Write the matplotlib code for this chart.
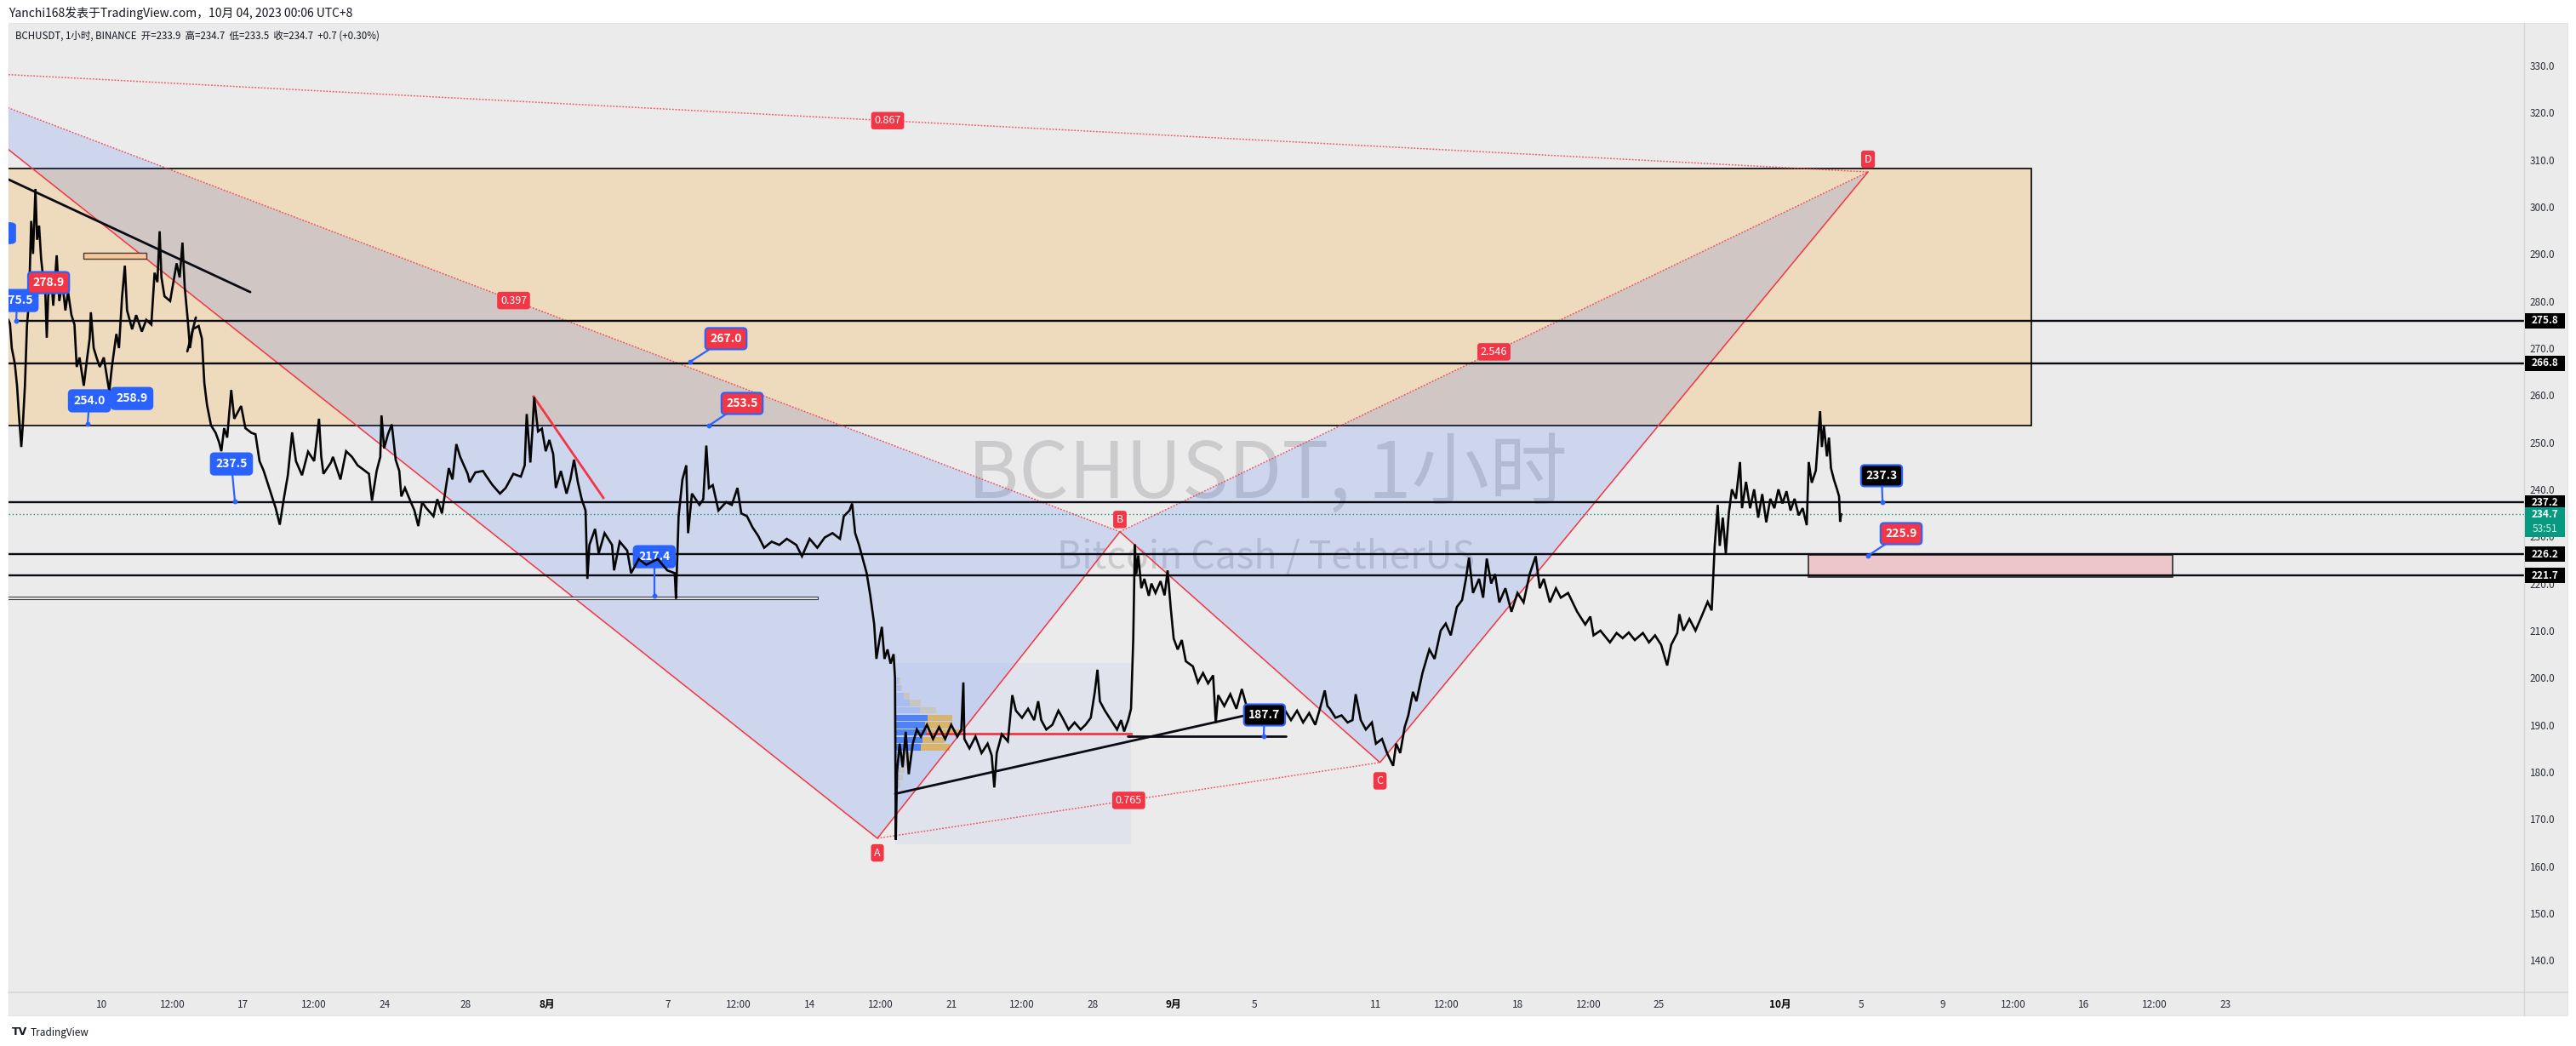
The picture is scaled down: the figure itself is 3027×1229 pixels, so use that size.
import matplotlib
matplotlib.use("Agg")
import matplotlib.pyplot as plt
import matplotlib.transforms as mtrans
from matplotlib.patches import Rectangle, Polygon, FancyBboxPatch
from matplotlib.lines import Line2D

plt.rcParams['font.family'] = ['Noto Sans CJK SC', 'DejaVu Sans']

# ---------------- data (x = days since 2023-07-10 00:00, y = price USDT) ----------------
price_days = [
 -4.62, -4.54, -4.45, -4.3, -4.19, -4.1, -3.98, -3.9, -3.8, -3.70, -3.6, -3.49, -3.40, -3.28, -3.2, -3.1,
 -3.0, -2.9, -2.8, -2.72, -2.65, -2.5, -2.4, -2.23, -2.1, -1.95, -1.8, -1.67, -1.5, -1.35, -1.24, -1.1,
 -0.89, -0.75, -0.6, -0.54, -0.4, -0.26, -0.1, 0.1, 0.25, 0.37, 0.5, 0.72, 0.85, 1.0, 1.14, 1.25, 1.5,
 1.7, 1.98, 2.2, 2.45, 2.61, 2.75, 2.86, 2.95, 3.1, 3.38, 3.5, 3.7, 3.85, 3.99, 4.1, 4.25, 4.36, 4.5,
 4.79, 4.95, 5.07, 5.2, 5.4, 5.63, 5.8, 5.91, 6.05, 6.2, 6.40, 6.55, 6.89, 7.1, 7.4, 7.6, 7.8, 8.0, 8.3,
 8.6, 8.8, 9.0, 9.2, 9.41, 9.6, 9.9, 10.2, 10.5, 10.74, 10.85,
 10.96, 11.33, 11.43, 11.80, 12.08, 12.37, 12.65, 12.84, 13.21, 13.36, 13.59, 13.77, 13.83, 13.96, 14.15,
 14.34, 14.53, 14.71, 14.81, 14.99, 15.28, 15.46, 15.65, 15.84, 16.03, 16.40, 16.59, 16.82, 16.97, 17.16,
 17.34, 17.53, 17.72, 18.09, 18.19, 18.47, 18.85, 19.03, 19.32, 19.69, 19.97, 20.35, 20.72, 20.91, 21.01,
 21.19, 21.29, 21.38, 21.57, 21.76, 21.95, 22.13, 22.32, 22.45, 22.70, 22.98, 23.17, 23.35, 23.54, 23.73,
 23.92, 24.01, 24.11, 24.39, 24.57, 24.86, 25.23, 25.33, 25.61, 25.98, 26.17, 26.55, 26.92, 27.49, 27.96,
 28.33, 28.39, 28.52, 28.71, 28.90, 28.99, 29.18, 29.55, 29.74, 29.89, 30.02, 30.21, 30.49, 30.87, 31.15,
 31.43, 31.62, 31.90, 32.18, 32.46, 32.75, 33.12, 33.50, 33.87, 34.34, 34.62, 35.00, 35.38, 35.75, 36.13,
 36.50, 36.69, 36.97, 37.10, 37.25, 37.44, 37.63, 37.82, 38.00, 38.19,
 38.3, 38.45, 38.57, 38.7, 38.85, 39.0, 39.15, 39.22, 39.26, 39.32, 39.45, 39.6, 39.75, 39.9, 40.1, 40.3,
 40.5, 40.8, 41.1, 41.4, 41.7, 42.0, 42.3, 42.5, 42.6, 42.65, 42.9, 43.2, 43.5, 43.8, 44.0, 44.13, 44.25,
 44.5, 44.8, 45.02, 45.2, 45.5, 45.8, 46.1, 46.3, 46.45, 46.7, 47.0, 47.3, 47.5, 47.8, 48.1, 48.4, 48.64,
 48.9, 49.1, 49.23, 49.35, 49.6, 49.9, 50.2, 50.4, 50.55, 50.75, 50.89, 51.0, 51.08,
 51.15, 51.25, 51.4, 51.55, 51.77, 51.9, 52.1, 52.35, 52.55, 52.7, 52.85, 53.0, 53.2, 53.4, 53.6, 53.95,
 54.2, 54.45, 54.7, 54.95, 55.08, 55.2, 55.5, 55.8, 56.1, 56.37, 56.6, 56.85, 57.2, 57.5, 57.9, 58.2,
 58.46, 58.8, 59.1, 59.4, 59.7, 60.0, 60.23, 60.47, 60.6, 60.72, 61.0, 61.3, 61.6, 61.84, 62.0, 62.25,
 62.5, 62.8, 63.0, 63.3, 63.55, 63.85, 64.0, 64.2, 64.42, 64.6, 64.83, 65.0, 65.3, 65.64, 65.9, 66.2,
 66.45, 66.7, 67.0, 67.26, 67.45, 67.6, 67.8, 68.1, 68.3, 68.48, 68.7, 68.89, 69.1, 69.4, 69.7, 70.0,
 70.3, 70.6, 70.9, 71.1, 71.3, 71.6, 71.9, 72.14, 72.5, 72.95, 73.35, 73.6, 73.76, 74.1, 74.57, 74.9,
 75.2, 75.5, 75.8, 76.2, 76.5, 76.8, 77.1, 77.4, 77.6, 77.9, 78.0, 78.2, 78.5, 78.8, 79.1, 79.4, 79.6,
 79.75, 79.9, 80.0, 80.15, 80.3, 80.45, 80.6, 80.8, 81.0, 81.1, 81.3, 81.5, 81.7, 81.9, 82.1, 82.3, 82.5,
 82.7, 82.9, 83.1, 83.3, 83.5, 83.7, 83.9, 84.1, 84.3, 84.4, 84.55, 84.75, 84.96, 85.05, 85.15, 85.3,
 85.4, 85.5, 85.65, 85.8, 85.9, 85.95, 86.0]
price_vals = [
 276.0, 275.2, 270.0, 266.7, 262.0, 256.0, 249.0, 254.0, 262.0, 274.7, 280.0, 297.0, 290.0, 303.8, 293.0, 296.0,
 289.0, 285.0, 283.0, 272.2, 281.0, 285.0, 279.0, 289.7, 280.0, 284.0, 278.0, 282.0, 277.0, 275.0, 266.0, 268.0,
 262.0, 267.0, 272.0, 277.6, 270.0, 268.0, 266.0, 268.0, 264.0, 260.8, 266.0, 273.0, 270.0, 280.7, 287.5, 278.0, 274.0,
 277.0, 273.5, 276.0, 275.0, 286.0, 284.0, 294.8, 285.0, 281.0, 280.0, 283.0, 288.0, 285.0, 292.4, 283.0, 276.0, 270.0, 274.0,
 274.7, 272.0, 262.6, 258.0, 253.6, 252.0, 250.0, 248.1, 253.0, 251.0, 261.1, 255.0, 257.7, 253.0, 252.0, 251.7, 246.0, 244.0, 240.0,
 236.0, 232.5, 238.0, 243.0, 252.1, 246.0, 243.0, 248.0, 246.0, 255.0, 247.0,
 243.3, 245.7, 246.9, 242.1, 248.1, 246.9, 245.1, 244.5, 243.3, 237.6, 243.9, 246.9, 255.7, 248.7, 251.7,
 253.8, 246.3, 243.9, 238.5, 240.3, 237.3, 235.5, 232.2, 237.3, 236.1, 234.3, 237.9, 234.9, 239.1, 244.5,
 242.1, 249.6, 246.9, 243.3, 241.5, 243.6, 243.9, 242.7, 240.9, 239.1, 240.3, 243.3, 242.7, 245.1, 256.0,
 245.7, 252.3, 259.6, 252.3, 252.9, 248.1, 250.5, 247.5, 240.3, 243.9, 239.1, 242.1, 246.3, 241.5, 237.9,
 235.5, 221.0, 228.2, 231.6, 226.4, 230.7, 228.2, 222.8, 228.9, 227.0, 222.2, 225.2, 224.0, 225.2, 222.8,
 222.2, 216.8, 234.3, 242.1, 245.1, 230.7, 239.1, 236.7, 237.9, 249.3, 240.3, 240.9, 235.5, 237.3, 236.7,
 240.3, 234.9, 234.3, 231.9, 230.1, 227.6, 228.9, 228.2, 229.5, 228.2, 225.8, 229.5, 227.6, 229.8, 230.7,
 229.5, 234.3, 235.5, 237.0, 230.7, 228.2, 225.2, 222.2, 217.4, 211.4,
 204.0, 208.0, 210.8, 204.0, 206.0, 203.0, 205.0, 200.0, 165.6, 180.0, 186.0, 181.0, 188.5, 179.5, 186.0, 189.0,
 187.5, 190.0, 187.0, 189.5, 187.0, 190.0, 187.5, 189.0, 199.0, 187.0, 185.0, 187.5, 184.0, 186.0, 183.5, 176.7, 184.0,
 188.0, 186.5, 196.3, 193.0, 191.5, 193.4, 191.0, 195.0, 191.0, 189.0, 190.0, 193.0, 191.5, 189.0, 190.5, 189.0, 190.0,
 191.5, 197.0, 201.7, 195.0, 193.0, 191.0, 189.0, 191.0, 188.6, 191.0, 193.4, 208.0, 228.3,
 222.0, 226.0, 219.0, 221.0, 217.4, 220.0, 218.0, 220.5, 217.5, 222.8, 215.0, 208.3, 206.0, 208.0, 203.5, 202.4,
 199.0, 201.0, 198.8, 200.5, 190.4, 196.3, 194.0, 196.5, 193.4, 197.6, 194.0, 193.9, 192.5, 193.5, 191.5, 194.0,
 193.4, 191.0, 193.0, 190.5, 192.5, 190.0, 193.4, 197.3, 194.0, 193.4, 191.5, 192.0, 190.5, 191.0, 196.5, 191.0,
 189.0, 190.5, 186.0, 187.0, 184.0, 181.3, 186.0, 184.0, 189.5, 192.0, 197.0, 195.0, 201.0, 206.0, 204.0, 210.0,
 211.5, 209.0, 215.0, 216.5, 221.0, 225.5, 218.0, 221.0, 217.0, 225.3, 220.0, 222.0, 216.0, 219.0, 214.0, 218.0,
 216.0, 222.0, 225.8, 219.0, 221.0, 216.0, 219.0, 217.0, 218.0, 214.0, 211.3, 213.0, 209.0, 210.0, 207.5, 209.5,
 208.4, 209.6, 208.0, 209.5, 207.5, 209.0, 207.0, 202.6, 207.0, 209.5, 213.5, 210.0, 212.5, 210.0, 213.0, 216.1, 214.3,
 228.0, 236.7, 228.0, 234.0, 226.4, 235.0, 240.0, 238.0, 245.8, 236.0, 241.6, 236.0, 240.0, 234.0, 239.0, 233.0, 238.0,
 236.0, 240.0, 237.0, 239.6, 235.5, 238.0, 234.5, 236.0, 232.4, 245.8, 241.4, 244.0, 256.6, 249.0, 253.5, 247.0,
 251.0, 244.5, 242.0, 240.0, 238.5, 233.1, 234.7]

# key horizontal levels (price-axis tags)
level_prices = [275.8, 266.8, 237.2, 226.2, 221.7]
last_price = 234.7
countdown = "53:51"
y_ticks = list(range(140, 331, 10))

# time axis labels
tick_days = [0, 3.5, 7, 10.5, 14, 18, 22, 28, 31.5, 35, 38.5, 42, 45.5, 49, 53, 57, 63, 66.5,
             70, 73.5, 77, 83, 87, 91, 94.5, 98, 101.5, 105]
tick_labels = ["10", "12:00", "17", "12:00", "24", "28", "8月", "7", "12:00", "14", "12:00", "21",
               "12:00", "28", "9月", "5", "11", "12:00", "18", "12:00", "25", "10月", "5", "9",
               "12:00", "16", "12:00", "23"]

# XABCD harmonic pattern
pat_names = ["X", "A", "B", "C", "D"]
pat_days = [-9.62, 38.35, 50.34, 63.2, 87.33]
pat_prices = [329.2, 165.9, 231.0, 182.0, 307.4]
ratio_pairs = [("X", "B", "0.397"), ("A", "C", "0.765"), ("B", "D", "2.546"), ("X", "D", "0.867")]

# zones (day0, day1, low, high)
supply_zone = (-12.0, 95.4, 253.55, 308.1)
demand_zone = (84.4, 102.4, 221.4, 226.1)
range_box = (39.22, 50.9, 164.6, 203.1)
small_box = (-0.91, 2.2, 289.0, 290.2)
thin_box = (-6.0, 35.4, 216.75, 217.15)
clipped_tag = (-7.2, -4.27, 292.2, 296.6)

# volume profile
vp_prices = [199.3, 197.8, 196.1, 194.6, 193.1, 191.5, 189.9, 188.4, 186.8, 185.2, 183.6, 182.0, 180.4, 178.8, 177.2]
vp_up = [10, 17, 27, 45, 77, 100, 93, 97, 85, 80, 30, 23, 15, 13, 10]
vp_total = [17, 23, 45, 80, 125, 175, 177, 200, 153, 167, 50, 40, 30, 25, 17]
vp_value_area = [5, 6, 7, 8, 9]
poc_price = 188.1

# trend lines ((day0, price0), (day1, price1))
black_lines = [((-4.61, 305.8), (7.34, 281.9)), ((4.23, 269.3), (4.65, 276.5)),
               ((39.23, 175.35), (56.55, 192.0)), ((50.72, 187.6), (58.54, 187.6))]
red_lines = [((21.35, 259.7), (24.8, 238.2)), ((40.8, poc_price), (50.9, poc_price))]
level_starts = [-4.23, -5.0, -5.0, -5.0, -5.0]

# callout labels: text, box day, box price, anchor day, anchor price, kind
callouts = [
    ("275.5", -4.19, 280.1, -4.23, 275.8, "blue"),
    ("278.9", -2.63, 283.9, -3.98, 280.0, "red"),
    ("254.0", -0.61, 258.8, -0.70, 253.9, "blue"),
    ("258.9", 1.49, 259.3, 0.31, 259.0, "blue"),
    ("237.5", 6.41, 245.4, 6.58, 237.5, "blue"),
    ("267.0", 30.86, 272.0, 29.09, 267.1, "red"),
    ("253.5", 31.66, 258.25, 30.02, 253.55, "red"),
    ("187.7", 57.49, 192.1, 57.45, 187.6, "black"),
    ("237.3", 88.0, 242.9, 88.05, 237.3, "black"),
    ("225.9", 88.97, 230.6, 87.33, 225.9, "red"),
]
hidden_callout = ("217.4", 27.32, 225.7, 27.32, 217.4, "blue")

# ---------------- figure ----------------
W, H = 3027, 1229
fig = plt.figure(figsize=(W / 100, H / 100), dpi=100)
fig.patch.set_facecolor("white")

def fx(px):
    return px / W

def fy(py):
    return 1 - py / H

BG = "#ebebeb"
RED = "#f23645"
BLUE = "#2962ff"
TXT = "#131722"
SEP = "#d6d6d6"

fig.add_artist(Rectangle((fx(10), fy(1193)), fx(3017) - fx(10), fy(27) - fy(1193),
                         transform=fig.transFigure, fc=BG, ec="#e2e4ea", lw=0.8, zorder=-10))

ax = fig.add_axes([fx(10), fy(1166), fx(2966) - fx(10), fy(27) - fy(1166)])
ax.set_facecolor("none")
ax.set_xlim(-4.612, 119.77)
ax.set_ylim(133.18, 339.04)
for s in ax.spines.values():
    s.set_visible(False)

fig.add_artist(Line2D([fx(2966), fx(2966)], [fy(27), fy(1193)], transform=fig.transFigure, color=SEP, lw=1))
fig.add_artist(Line2D([fx(10), fx(3017)], [fy(1166), fy(1166)], transform=fig.transFigure, color=SEP, lw=1.2))

# axes ticks
ax.yaxis.tick_right()
ax.set_yticks(y_ticks)
ax.set_yticklabels([f"{v:.1f}" for v in y_ticks])
ax.tick_params(axis="y", length=0, pad=5, labelsize=8.5, labelcolor="#2a2e39")
ax.set_xticks(tick_days)
ax.set_xticklabels(tick_labels)
ax.tick_params(axis="x", length=0, pad=6, labelsize=8.5, labelcolor="#2a2e39")
for lab in ax.get_xticklabels():
    if "月" in lab.get_text():
        lab.set_fontweight("bold")
        lab.set_color("#000000")

# watermark
ax.text(fx(1489), fy(585), "BCHUSDT, 1小时", transform=fig.transFigure, fontsize=66,
        color="#cbcbcd", ha="center", va="baseline", zorder=0.5, clip_on=False)
ax.text(fx(1487), fy(668), "Bitcoin Cash / TetherUS", transform=fig.transFigure, fontsize=32,
        color="#cbcbcd", ha="center", va="baseline", zorder=0.5, clip_on=False)

# zones
d0, d1, lo, hi = supply_zone
ax.add_patch(Rectangle((d0, lo), d1 - d0, hi - lo, fc=(1.0, 0.596, 0.0, 0.2), ec="#000000", lw=1.2, zorder=1))
d0, d1, lo, hi = range_box
ax.add_patch(Rectangle((d0, lo), d1 - d0, hi - lo, fc=(0.16, 0.38, 1.0, 0.05), ec="none", zorder=1.5))
d0, d1, lo, hi = demand_zone
ax.add_patch(Rectangle((d0, lo), d1 - d0, hi - lo, fc=(0.95, 0.21, 0.27, 0.2), ec="#2b2b2b", lw=1.2, zorder=2))

# pattern triangles
P = {n: (d, p) for n, d, p in zip(pat_names, pat_days, pat_prices)}
ax.add_patch(Polygon([P["X"], P["A"], P["B"]], closed=True, fc=(0.16, 0.38, 1.0, 0.15), ec="none", zorder=2))
ax.add_patch(Polygon([P["B"], P["C"], P["D"]], closed=True, fc=(0.16, 0.38, 1.0, 0.15), ec="none", zorder=2))
ax.plot(pat_days, pat_prices, color=RED, lw=1.1, zorder=3)
for a, b, txt in ratio_pairs:
    (xa, ya), (xb, yb) = P[a], P[b]
    ax.plot([xa, xb], [ya, yb], color=RED, lw=1.1, ls=(0, (1.2, 1.2)), alpha=0.8, zorder=3)
    ax.text((xa + xb) / 2, (ya + yb) / 2, txt, ha="center", va="center", color="white", fontsize=9,
            bbox=dict(boxstyle="round,pad=0.3,rounding_size=0.25", fc=RED, ec="none"), zorder=7, clip_on=True)
letter_off = {"A": -3.1, "B": 2.6, "C": -3.9, "D": 2.7}
for n in ["A", "B", "C", "D"]:
    d, p = P[n]
    ax.text(d, p + letter_off[n], n, ha="center", va="center", color="white", fontsize=9,
            bbox=dict(boxstyle="round,pad=0.3,rounding_size=0.25", fc=RED, ec="none"), zorder=7)

# volume profile
vp_scale = 1 / 62.1
for i, (pr, up, tot) in enumerate(zip(vp_prices, vp_up, vp_total)):
    inva = i in vp_value_area
    cu = "#4f82f2" if inva else "#a9bdf0"
    cd = "#d8b56c" if inva else "#c9c6c2"
    ax.barh(pr, up * vp_scale, left=range_box[0], height=1.35, color=cu, zorder=2.5)
    ax.barh(pr, (tot - up) * vp_scale, left=range_box[0] + up * vp_scale, height=1.35, color=cd, zorder=2.5)

# small boxes
d0, d1, lo, hi = small_box
ax.add_patch(Rectangle((d0, lo), d1 - d0, hi - lo, fc="#f4c89c", ec="#4e342e", lw=1, zorder=4))
d0, d1, lo, hi = thin_box
ax.add_patch(Rectangle((d0, lo), d1 - d0, hi - lo, fc=BG, ec="#3a3a44", lw=0.8, zorder=4))
d0, d1, lo, hi = clipped_tag
ax.add_patch(FancyBboxPatch((d0, lo), d1 - d0, hi - lo, boxstyle="round,pad=0,rounding_size=0.3",
                            mutation_aspect=2, fc=BLUE, ec=BLUE, lw=1, zorder=6))

# horizontal levels
for p, st in zip(level_prices, level_starts):
    ax.plot([st, 130], [p, p], color="#0b0b14", lw=1.7, zorder=4)
ax.axhline(last_price, color="#089981", lw=1, ls=(0, (1, 2)), zorder=4)

for (a, b) in black_lines:
    ax.plot([a[0], b[0]], [a[1], b[1]], color="#0b0b14", lw=2, zorder=4, solid_capstyle="round")
for (a, b) in red_lines:
    ax.plot([a[0], b[0]], [a[1], b[1]], color=RED, lw=2, zorder=4)


def callout(item, z):
    txt, bx, by, axd, ayp, kind = item
    fc = {"blue": BLUE, "red": RED, "black": "#000000"}[kind]
    ec = BLUE
    if axd is not None:
        ax.plot([axd, bx], [ayp, by], color=ec, lw=1.6, zorder=z)
        ax.plot([axd], [ayp], "o", ms=3.2, color=ec, zorder=z)
    ax.text(bx, by, txt, ha="center", va="center", color="white", fontsize=10, fontweight="bold",
            bbox=dict(boxstyle="round,pad=0.4,rounding_size=0.3", fc=fc, ec=ec, lw=1.5),
            zorder=z + 0.1, clip_on=True)

callout(hidden_callout, 4.5)

# price series
ax.plot(price_days, price_vals, color="#050505", lw=1.9, zorder=5, solid_joinstyle="miter")

for it in callouts:
    callout(it, 6)

# price axis tags
trans = mtrans.blended_transform_factory(fig.transFigure, ax.transData)
for p in level_prices:
    fig.add_artist(Rectangle((fx(2967), p - 1.6), fx(3014) - fx(2967), 3.2, transform=trans,
                             fc="#000000", ec="none", zorder=5))
    fig.text(fx(2990.5), p, f"{p:.1f}", transform=trans, ha="center", va="center",
             color="white", fontsize=8.5, fontweight="bold", zorder=6)
fig.add_artist(Rectangle((fx(2967), 229.9), fx(3014) - fx(2967), 6.3, transform=trans,
                         fc="#089981", ec="none", zorder=5))
fig.text(fx(2990.5), last_price, f"{last_price:.1f}", transform=trans, ha="center", va="center",
         color="white", fontsize=8.5, fontweight="bold", zorder=6)
fig.text(fx(2990.5), 231.6, countdown, transform=trans, ha="center", va="center",
         color="#d8f0ea", fontsize=8.5, zorder=6)

# header / footer
fig.text(fx(10), fy(15), "Yanchi168发表于TradingView.com，10月 04, 2023 00:06 UTC+8",
         ha="left", va="center", fontsize=10.0, color=TXT)
fig.text(fx(18), fy(42), "BCHUSDT, 1小时, BINANCE  开=233.9  高=234.7  低=233.5  收=234.7  +0.7 (+0.30%)",
         ha="left", va="center", fontsize=8.3, color=TXT)
fig.text(fx(14), fy(1213), "TV", ha="left", va="center", fontsize=9, fontweight="bold",
         color="#131722", family="DejaVu Sans")
fig.text(fx(36), fy(1213), "TradingView", ha="left", va="center", fontsize=8.5, color="#131722")

fig.savefig("out.png", dpi=100, facecolor="white")
